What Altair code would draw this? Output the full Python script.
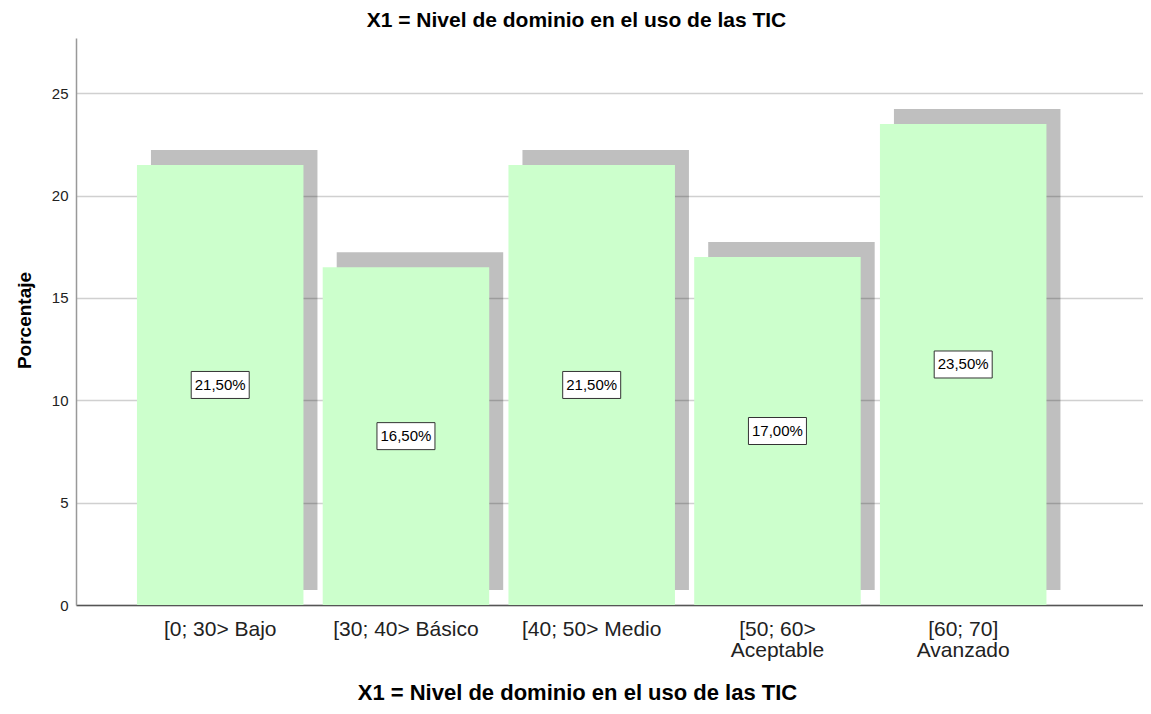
import altair as alt
import pandas as pd

categories = ["[0; 30> Bajo", "[30; 40> Básico", "[40; 50> Medio", "[50; 60>|Aceptable", "[60; 70]|Avanzado"]
percentages = [21.5, 16.5, 21.5, 17.0, 23.5]
y_ticks = [0, 5, 10, 15, 20, 25]

df = pd.DataFrame({"cat": categories, "pct": percentages})

FONT = "Liberation Sans"
TITLE = "X1 = Nivel de dominio en el uso de las TIC"

x_axis = alt.Axis(
    title=TITLE, labelExpr="split(datum.label, '|')", labelAngle=0,
    labelFontSize=21, labelLineHeight=21, labelPadding=13, labelFont=FONT,
    labelColor="#222", labelBaseline="top", ticks=False,
    domainColor="#555", domainWidth=1.5,
    titleFont=FONT, titleFontSize=22, titleFontWeight="bold", titleColor="#000",
    titleX=501, titleY=87, titleBaseline="middle", titleAlign="center",
)
y_axis = alt.Axis(
    title="Porcentaje", values=y_ticks, grid=True, gridColor="#d0d0d0", gridWidth=1.5,
    ticks=False, labelPadding=8, labelFont=FONT, labelFontSize=15, labelColor="#222",
    domainColor="#999", domainWidth=1.5,
    titleFont=FONT, titleFontSize=19, titleFontWeight="bold", titleColor="#000",
    titleAngle=-90, titleX=-52, titleY=282, titleBaseline="middle", titleAlign="center",
)

x_scale = alt.Scale(paddingInner=0.1036, paddingOuter=0.424, align=0.387)
y_scale = alt.Scale(domain=[0, 27.7], nice=False, zero=True)

X = alt.X("cat:N", sort=categories, scale=x_scale, axis=x_axis)

base = alt.Chart(df)

shadow = base.mark_bar(color="black", opacity=0.25, xOffset=14, x2Offset=14,
                       yOffset=-15, y2Offset=-15).encode(
    x=X, y=alt.Y("pct:Q", scale=y_scale, axis=y_axis))

bars = base.mark_bar(color="#ccffcc", opacity=1).encode(
    x=X, y=alt.Y("pct:Q", scale=y_scale, axis=y_axis))

lab = base.transform_calculate(
    half="datum.pct / 2",
    txt="replace(format(datum.pct, '.2f'), '.', ',') + '%'",
)

boxes = lab.mark_point(
    shape="M-1,-0.4655L1,-0.4655L1,0.4655L-1,0.4655Z", size=3364,
    filled=True, fill="white", stroke="#333", strokeWidth=1, opacity=1,
).encode(x=X, y=alt.Y("half:Q", scale=y_scale, axis=y_axis))

texts = lab.mark_text(font=FONT, fontSize=15, color="black", align="center",
                      baseline="middle").encode(
    x=X, y=alt.Y("half:Q", scale=y_scale, axis=y_axis), text="txt:N")

chart = alt.layer(shadow, bars, boxes, texts).properties(
    width=1067, height=567,
    title=alt.TitleParams(TITLE, font=FONT, fontSize=21, fontWeight="bold",
                          color="#000", dx=-33, offset=7),
    autosize=alt.AutoSizeParams(type="none"),
    padding={"left": 68, "top": 30, "right": 0, "bottom": 100},
).configure_view(stroke=None)

chart.save("out.html", embed_options={"renderer": "svg", "actions": False})
